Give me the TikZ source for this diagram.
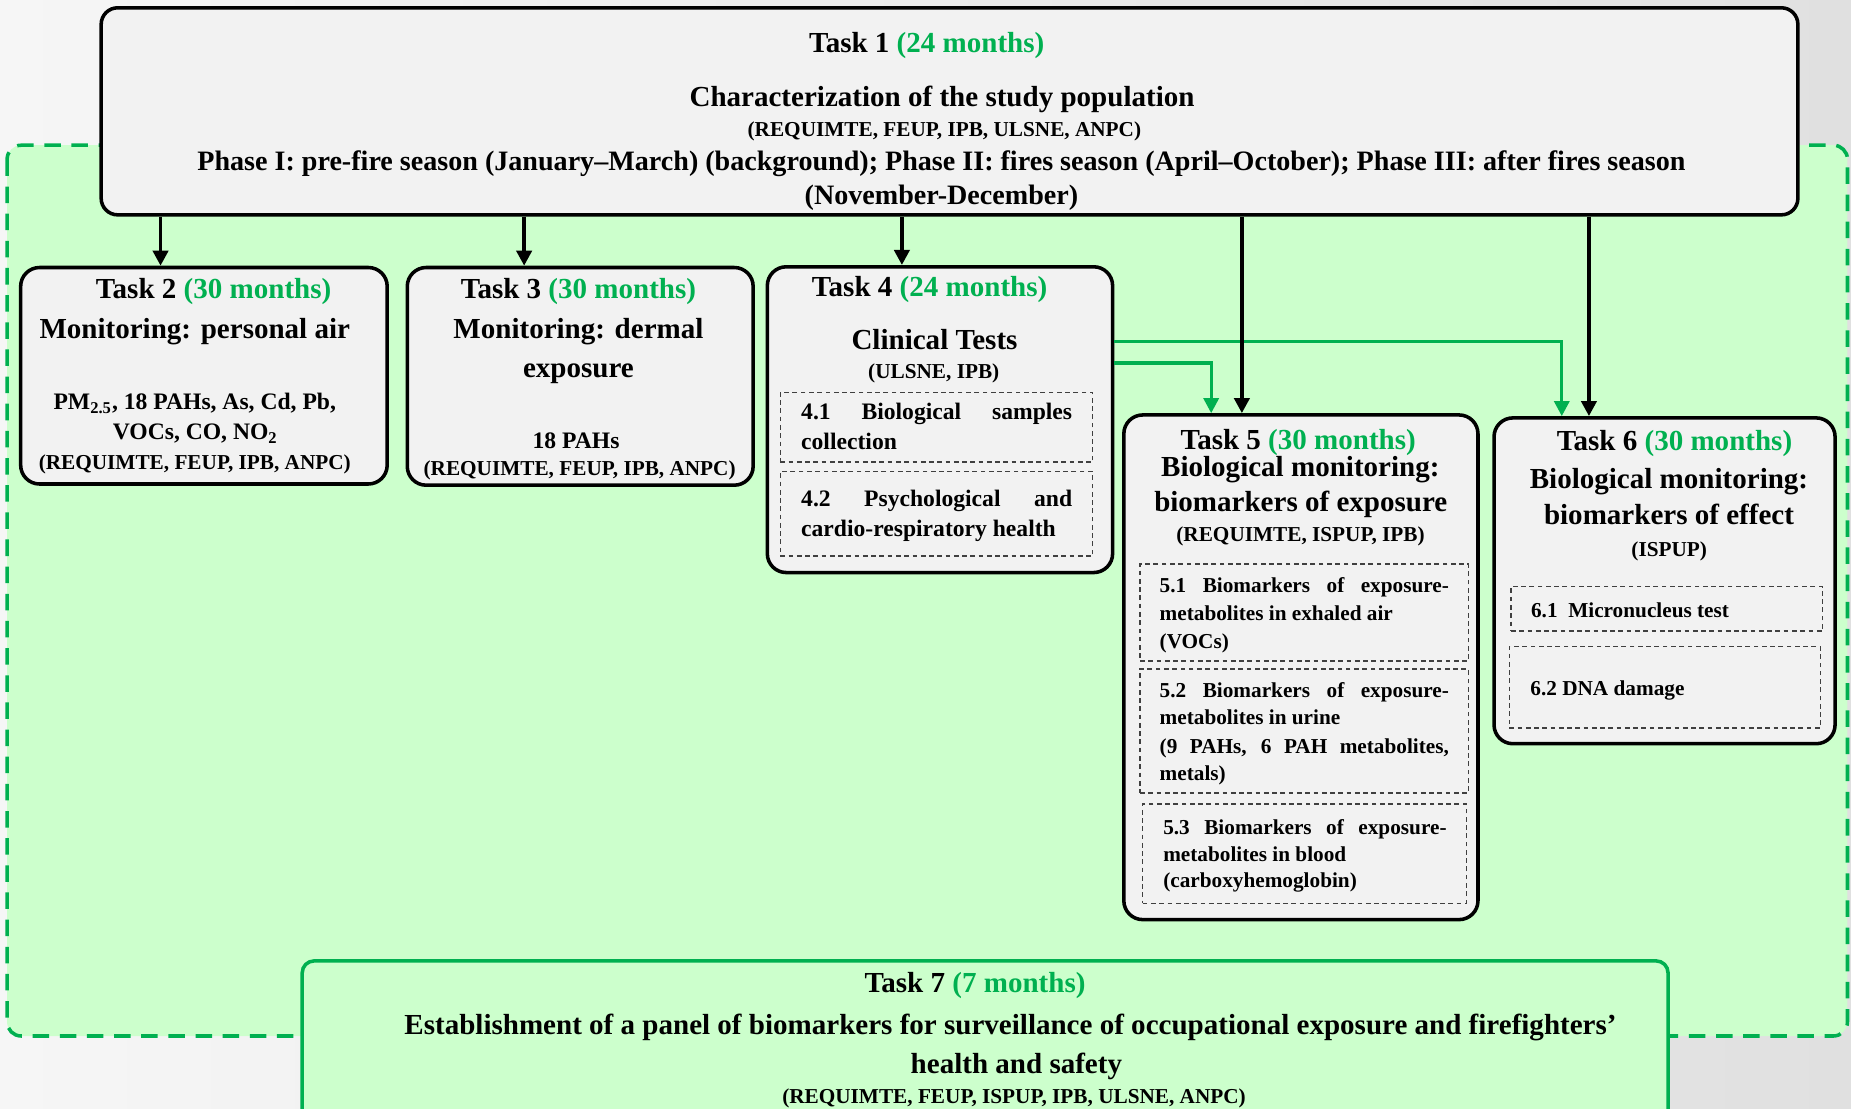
\documentclass[tikz,border=0pt]{standalone}
\usepackage{fontspec}
\setmainfont{Liberation Serif}
\usetikzlibrary{arrows.meta}
\definecolor{gtxt}{HTML}{00B050}
\definecolor{gfill}{HTML}{CCFFCC}
\definecolor{boxfill}{HTML}{F2F2F2}
\definecolor{dashc}{HTML}{404040}
\definecolor{bgA}{HTML}{F6F6F6}
\definecolor{bgB}{HTML}{F1F1F1}
\definecolor{bgC}{HTML}{E0E0E0}
\newcommand\myTitle{\fontsize{12.3pt}{15pt}\selectfont\bfseries}
\newcommand\myPhase{\fontsize{11.9pt}{15pt}\selectfont\bfseries}
\newcommand\mySmall{\fontsize{9pt}{11pt}\selectfont\bfseries}
\newcommand\myBody{\fontsize{10pt}{12pt}\selectfont\bfseries}
\newcommand\mySub{\fontsize{9pt}{11pt}\selectfont\bfseries}
\newcommand\gm[1]{\textcolor{gtxt}{#1}}
\begin{document}
\begin{tikzpicture}[x=0.5pt,y=-0.5pt,
  taskbox/.style={draw=black, line width=1.5pt, fill=boxfill, rounded corners=8pt, inner sep=0pt},
  subbox/.style={draw=dashc, line width=0.5pt, dash pattern=on 2pt off 1.5pt, fill=boxfill, inner sep=0pt},
  t7box/.style={draw=gtxt, line width=1.5pt, fill=gfill, rounded corners=5pt, inner sep=0pt},
  txt/.style={inner sep=0pt, anchor=base},
  ltxt/.style={inner sep=0pt, anchor=base west},
  barr/.style={draw=black, line width=1.6pt, -{Triangle[length=6.4pt,width=6.4pt]}},
  garr/.style={draw=gtxt, line width=1.4pt, -{Triangle[length=6.4pt,width=6.4pt]}}]
\useasboundingbox (0,0) rectangle (1568,938.6);
\clip (0,0) rectangle (1568,938.6);
% background
\shade[left color=bgA, middle color=bgB, right color=bgC] (0,0) rectangle (1568,938.6);
% green region
\draw[draw=gtxt, fill=gfill, line width=1.5pt, dash pattern=on 7pt off 4.5pt, rounded corners=6pt] (6,123) rectangle (1565,877.6);

% Task boxes
\node[taskbox, rounded corners=7pt, minimum width=718.65pt, minimum height=87.7pt] (t1) at (804.35,94.3) {};
\node[taskbox, minimum width=155.25pt, minimum height=91.7pt] (t2) at (172.75,318.3) {};
\node[taskbox, minimum width=146.5pt, minimum height=92.2pt] (t3) at (491.5,318.8) {};
\node[taskbox, minimum width=146.25pt, minimum height=129.5pt] (t4) at (796.25,355.5) {};
\node[taskbox, minimum width=150pt, minimum height=213.75pt] (t5) at (1102,565.25) {};
\node[taskbox, minimum width=144.45pt, minimum height=138pt] (t6) at (1410.05,492) {};
\node[t7box, minimum width=578.5pt, minimum height=73pt] (t7) at (834.5,887) {};

% sub boxes
\node[subbox, minimum width=132.3pt, minimum height=29.55pt] (s41) at (793.3,361.85) {};
\node[subbox, minimum width=132.3pt, minimum height=35.7pt] (s42) at (793.3,435.3) {};
\node[subbox, minimum width=139.05pt, minimum height=41.1pt] (s51) at (1104.75,518.9) {};
\node[subbox, minimum width=139.05pt, minimum height=52.55pt] (s52) at (1104.75,619.25) {};
\node[subbox, minimum width=137pt, minimum height=42pt] (s53) at (1105,723) {};
\node[subbox, minimum width=132pt, minimum height=18.75pt] (s61) at (1412,515.75) {};
\node[subbox, minimum width=131.75pt, minimum height=34.5pt] (s62) at (1410.25,582.2) {};

% Task 1 text
\node[txt] (t1a) at (785,44.3) {\myTitle Task 1 \gm{(24 months)}};
\node[txt] (t1b) at (798,89.8) {\myTitle Characterization of the study population};
\node[txt] (t1c) at (800,115.2) {\mySmall (REQUIMTE, FEUP, IPB, ULSNE, ANPC)};
\node[txt] (t1d) at (797.5,144.6) {\myPhase Phase I: pre-fire season (January--March) (background); Phase II: fires season (April--October); Phase III: after fires season};
\node[txt] (t1e) at (797.5,173.6) {\myPhase (November-December)};

% Task 2 text
\node[txt] (t2a) at (181,253) {\myTitle Task 2 \gm{(30 months)}};
\node[txt] (t2b) at (165,286.7) {\myTitle Monitoring: personal air};
\node[txt] (t2c) at (165,347.2) {\myBody PM\textsubscript{2.5}, 18 PAHs, As, Cd, Pb,};
\node[txt] (t2d) at (165.5,372.7) {\myBody VOCs, CO, NO\textsubscript{2}};
\node[txt] (t2e) at (165,398) {\mySmall (REQUIMTE, FEUP, IPB, ANPC)};

% Task 3 text
\node[txt] (t3a) at (490,253) {\myTitle Task 3 \gm{(30 months)}};
\node[txt] (t3b) at (490,287) {\myTitle Monitoring: dermal};
\node[txt] (t3c) at (490,320) {\myTitle exposure};
\node[txt] (t3d) at (488,379.5) {\myBody 18 PAHs};
\node[txt] (t3e) at (491,402.5) {\mySmall (REQUIMTE, FEUP, IPB, ANPC)};

% Task 4 text
\node[txt] (t4a) at (787.5,251) {\myTitle Task 4 \gm{(24 months)}};
\node[txt] (t4b) at (791.6,295.7) {\myTitle Clinical Tests};
\node[txt] (t4c) at (791,321) {\mySmall (ULSNE, IPB)};
\node[ltxt] (t4d) at (678.3,355) {\myBody\makebox[114.75pt][s]{4.1 Biological samples}};
\node[ltxt] (t4e) at (678.3,381) {\myBody collection};
\node[ltxt] (t4f) at (678.3,429) {\myBody\makebox[114.75pt][s]{4.2 Psychological and}};
\node[ltxt] (t4g) at (678.3,454.6) {\myBody cardio-respiratory health};

% Task 5 text
\node[txt] (t5a) at (1099.7,381) {\myTitle Task 5 \gm{(30 months)}};
\node[txt] (t5b) at (1101.5,404) {\myTitle Biological monitoring:};
\node[txt] (t5c) at (1101.9,433.4) {\myTitle biomarkers of exposure};
\node[txt] (t5d) at (1101.7,458.8) {\mySmall (REQUIMTE, ISPUP, IPB)};
\node[ltxt] (t5e) at (982,502) {\mySub\makebox[122.5pt][s]{5.1 Biomarkers of exposure-}};
\node[ltxt] (t5f) at (982,525.8) {\mySub metabolites in exhaled air};
\node[ltxt] (t5g) at (982,549.2) {\mySub (VOCs)};
\node[ltxt] (t5h) at (982,590.5) {\mySub\makebox[122.5pt][s]{5.2 Biomarkers of exposure-}};
\node[ltxt] (t5i) at (982,613.5) {\mySub metabolites in urine};
\node[ltxt] (t5j) at (982,638.4) {\mySub\makebox[122.5pt][s]{(9 PAHs, 6 PAH metabolites,}};
\node[ltxt] (t5k) at (982,661) {\mySub metals)};
\node[ltxt] (t5l) at (985,707) {\mySub\makebox[120pt][s]{5.3 Biomarkers of exposure-}};
\node[ltxt] (t5m) at (985,729.7) {\mySub metabolites in blood};
\node[ltxt] (t5n) at (985,752) {\mySub (carboxyhemoglobin)};

% Task 6 text
\node[txt] (t6a) at (1418.5,381.8) {\myTitle Task 6 \gm{(30 months)}};
\node[txt] (t6b) at (1413.8,413.5) {\myTitle Biological monitoring:};
\node[txt] (t6c) at (1413.8,444.7) {\myTitle biomarkers of effect};
\node[txt] (t6d) at (1414,471.5) {\mySmall (ISPUP)};
\node[ltxt] (t6e) at (1296.6,522.7) {\mySub 6.1\enspace Micronucleus test};
\node[ltxt] (t6f) at (1296,589) {\mySub 6.2 DNA damage};

% Task 7 text
\node[txt] (t7a) at (826,840.5) {\myTitle Task 7 \gm{(7 months)}};
\node[txt] (t7b) at (856,876.4) {\myTitle Establishment of a panel of biomarkers for surveillance of occupational exposure and firefighters’};
\node[txt] (t7c) at (861,909.3) {\myTitle health and safety};
\node[txt] (t7d) at (859,934.8) {\mySmall (REQUIMTE, FEUP, ISPUP, IPB, ULSNE, ANPC)};

% connectors
\coordinate (a2) at (136,0);
\coordinate (a3) at (444,0);
\coordinate (a4) at (764,0);
\coordinate (a5) at (1052,0);
\coordinate (a6) at (1346,0);
\coordinate (g6) at (1323,289);
\coordinate (g5) at (1026,307.6);
\draw[garr] (t4.east |- g6) -| (t6.north -| g6);
\draw[garr] (t4.east |- g5) -| (t5.north -| g5);
\draw[barr] (t1.south -| a2) -- (t2.north -| a2);
\draw[barr] (t1.south -| a3) -- (t3.north -| a3);
\draw[barr] (t1.south -| a4) -- (t4.north -| a4);
\draw[barr] (t1.south -| a5) -- (t5.north -| a5);
\draw[barr] (t1.south -| a6) -- (t6.north -| a6);
\end{tikzpicture}
\end{document}
